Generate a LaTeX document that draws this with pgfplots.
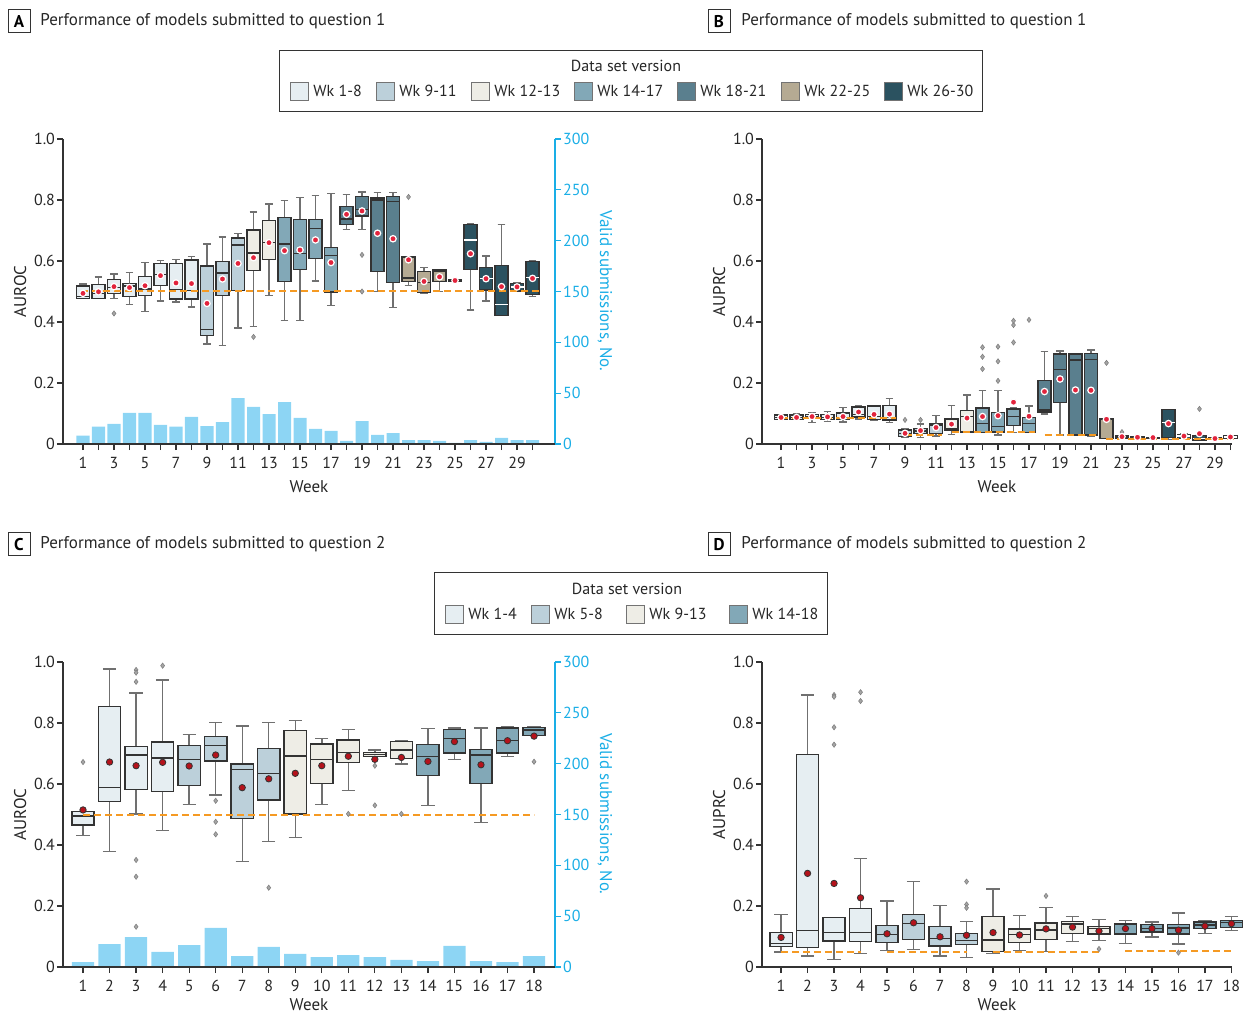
\documentclass[border=0pt]{standalone}
\usepackage{pgfplots}
\pgfplotsset{compat=1.18}
\usepgfplotslibrary{statistics}
\usepackage{fontspec}
\setmainfont{PT Sans}
\setsansfont{PT Sans}
\definecolor{cA}{HTML}{E6EEF2}
\definecolor{cB}{HTML}{BCD0DA}
\definecolor{cC}{HTML}{EEEDE6}
\definecolor{cD}{HTML}{82A8B7}
\definecolor{cE}{HTML}{5A7F8E}
\definecolor{cF}{HTML}{B5AA93}
\definecolor{cG}{HTML}{2B5260}
\definecolor{barc}{HTML}{8DD5F4}
\definecolor{axblue}{HTML}{1AAEE6}
\definecolor{orng}{HTML}{F59A23}
\definecolor{meanred}{HTML}{E2233C}
\definecolor{darkred}{HTML}{B5121B}
\definecolor{boxline}{HTML}{333333}
\definecolor{whisk}{HTML}{707070}
\pgfplotsset{
 bxp/.style={solid, draw=boxline, line width=0.7pt, mark=diamond*, mark size=1.3pt,
   mark options={solid, fill=gray!70, draw=gray, line width=0.3pt},
   boxplot/draw direction=y,
   boxplot/box extend=0.84, boxplot/whisker extend=0.5,
   boxplot/every whisker/.style={draw=whisk},
   boxplot/every median/.style={draw=boxline}},
 wmed/.style={boxplot/every median/.style={draw=white}},
 panel/.style={anchor=south west, scale only axis, height=152.5pt, ymin=0, ymax=1,
   axis x line*=bottom, axis y line*=left, axis line style={boxline, line width=0.6pt, -},
   tick align=outside, major tick length=3pt, tick style={boxline, line width=0.6pt},
   ytick={0,0.2,0.4,0.6,0.8,1}, yticklabels={0,0.2,0.4,0.6,0.8,1.0},
   tick label style={font=\fontsize{8}{9.6}\selectfont, text=black!85},
   yticklabel style={xshift=2.5pt},
   label style={font=\fontsize{8.5}{10}\selectfont, text=black!85}, xlabel={Week},
   xlabel style={yshift=0.8pt}, ylabel style={yshift=-3pt}, clip=false,
   /pgf/number format/assume math mode=true},
 lowpanel/.style={xlabel style={yshift=2.6pt}},
 barax/.style={anchor=south west, scale only axis, height=152.5pt, ymin=0, ymax=300,
   axis x line=none, axis y line*=right, axis line style={axblue, line width=0.6pt, -},
   tick align=outside, major tick length=3pt, tick style={axblue, line width=0.6pt},
   ytick={0,50,100,150,200,250,300}, yticklabels={0,50,100,150,200,250,300},
   yticklabel style={font=\fontsize{8}{9.6}\selectfont, text=axblue, xshift=-2.5pt},
   /pgf/number format/assume math mode=true},
 meanA/.style={only marks, mark=*, mark size=1.6pt, mark options={solid, fill=meanred, draw=white, line width=0.6pt}},
 meanC/.style={only marks, mark=*, mark size=1.6pt, mark options={solid, fill=darkred, draw=boxline, line width=0.4pt}},
 base/.style={draw=orng, color=orng, no marks, line width=1pt, dash pattern=on 3.5pt off 2pt},
}
% #1 extra options, #2 position, #3 lower whisker, #4 lower quartile, #5 median,
% #6 upper quartile, #7 upper whisker, #8 fill colour, #9 outliers
\newcommand{\bx}[9][]{\addplot[bxp, fill=#8, #1, boxplot prepared={draw position=#2, lower whisker=#3, lower quartile=#4, median=#5, upper quartile=#6, upper whisker=#7}] coordinates {#9};}

\begin{document}
\begin{tikzpicture}
\path[use as bounding box] (0,0) rectangle (622pt,-508pt);
% ---------- panel headers ----------
\tikzset{hdrbox/.style={draw=boxline, line width=0.5pt, minimum width=11pt, minimum height=11.5pt, inner sep=0pt, font=\bfseries\fontsize{8.5}{10}\selectfont},
 hdr/.style={anchor=west, inner sep=0pt, font=\fontsize{8.5}{10}\selectfont, text=black!85}}
\node[hdrbox] at (9.5pt,-10.75pt) {A};
\node[hdr] at (20pt,-10.75pt) {Performance of models submitted to question 1};
\node[hdrbox] at (359.5pt,-10.75pt) {B};
\node[hdr] at (370.5pt,-10.75pt) {Performance of models submitted to question 1};
\node[hdrbox] at (9.5pt,-272.25pt) {C};
\node[hdr] at (20pt,-272.25pt) {Performance of models submitted to question 2};
\node[hdrbox] at (359.5pt,-272.25pt) {D};
\node[hdr] at (370.5pt,-272.25pt) {Performance of models submitted to question 2};
% ---------- legend 1 ----------
\draw[boxline, line width=0.5pt] (139.5pt,-25.5pt) rectangle (491pt,-56pt);
\node[font=\fontsize{8}{9.6}\selectfont, text=black!85] at (313pt,-33pt) {Data set version};
\foreach \xx/\cc/\lab in {145/cA/{Wk 1-8}, 188/cB/{Wk 9-11}, 235.5/cC/{Wk 12-13}, 287/cD/{Wk 14-17}, 338.5/cE/{Wk 18-21}, 390.5/cF/{Wk 22-25}, 442/cG/{Wk 26-30}}{
  \draw[fill=\cc, draw=gray!90!black, line width=0.4pt] (\xx pt,-41pt) rectangle ++(9pt,-9pt);
  \node[anchor=west, inner sep=0pt, font=\fontsize{8}{9.6}\selectfont, text=black!85] at ({\xx pt + 11.5pt},-45.5pt) {\lab};
}
% ---------- legend 2 ----------
\draw[boxline, line width=0.5pt] (217pt,-286.5pt) rectangle (413.5pt,-317pt);
\node[font=\fontsize{8}{9.6}\selectfont, text=black!85] at (313.5pt,-294.5pt) {Data set version};
\foreach \xx/\cc/\lab in {222.5/cA/{Wk 1-4}, 265.5/cB/{Wk 5-8}, 313/cC/{Wk 9-13}, 364.5/cD/{Wk 14-18}}{
  \draw[fill=\cc, draw=gray!90!black, line width=0.4pt] (\xx pt,-302.5pt) rectangle ++(9pt,-9pt);
  \node[anchor=west, inner sep=0pt, font=\fontsize{8}{9.6}\selectfont, text=black!85] at ({\xx pt + 11.5pt},-307pt) {\lab};
}
% ---------- right-axis labels ----------
\node[rotate=-90, font=\fontsize{8.5}{10}\selectfont, text=axblue] at (302.5pt,-145.5pt) {Valid submissions, No.};
\node[rotate=-90, font=\fontsize{8.5}{10}\selectfont, text=axblue] at (302.5pt,-407pt) {Valid submissions, No.};

% ================= PANEL A =================
\begin{axis}[barax, at={(31.5pt,-222pt)}, width=246pt, xmin=-0.29, xmax=31.45]
\addplot[ybar, bar width=0.84, fill=barc, draw=none] coordinates {
(1,8.2) (2,17) (3,19.7) (4,30.5) (5,30.5) (6,18.7) (7,17) (8,26.6) (9,17.7) (10,21.6)
(11,45.2) (12,36.4) (13,29.5) (14,41.3) (15,25.6) (16,14.8) (17,12.8) (18,3) (19,22.6) (20,8.9)
(21,10.8) (22,3.9) (23,3.9) (24,3) (25,1) (26,3.9) (27,2) (28,5.9) (29,3.9) (30,3.9)};
\end{axis}
\begin{axis}[panel, at={(31.5pt,-222pt)}, width=246pt, xmin=-0.29, xmax=31.45,
  xtick={1,...,30}, xticklabels={1,,3,,5,,7,,9,,11,,13,,15,,17,,19,,21,,23,,25,,27,,29,}, ylabel={AUROC}]
\bx{1}{0.478}{0.478}{0.483}{0.518}{0.525}{cA}{}
\bx{2}{0.478}{0.478}{0.494}{0.523}{0.547}{cA}{}
\bx{3}{0.478}{0.494}{0.514}{0.539}{0.557}{cA}{(0,0.428)}
\bx{4}{0.457}{0.484}{0.518}{0.526}{0.562}{cA}{}
\bx{5}{0.434}{0.486}{0.508}{0.549}{0.596}{cA}{}
\bx{6}{0.469}{0.520}{0.556}{0.591}{0.601}{cA}{}
\bx{7}{0.466}{0.476}{0.507}{0.592}{0.604}{cA}{}
\bx{8}{0.449}{0.476}{0.504}{0.603}{0.614}{cA}{}
\bx{9}{0.328}{0.355}{0.375}{0.584}{0.656}{cB}{}
\bx{10}{0.322}{0.486}{0.560}{0.598}{0.679}{cB}{}
\bx{11}{0.380}{0.503}{0.652}{0.675}{0.691}{cB}{}
\bx{12}{0.385}{0.569}{0.626}{0.701}{0.761}{cC}{(0,0.351)}
\bx{13}{0.487}{0.604}{0.660}{0.732}{0.787}{cC}{}
\bx{14}{0.405}{0.533}{0.656}{0.743}{0.798}{cD}{}
\bx{15}{0.405}{0.573}{0.625}{0.737}{0.809}{cD}{}
\bx{16}{0.534}{0.609}{0.707}{0.737}{0.814}{cD}{}
\bx{17}{0.454}{0.499}{0.619}{0.644}{0.822}{cD}{}
\bx{18}{0.704}{0.720}{0.738}{0.778}{0.819}{cE}{}
\bx{19}{0.704}{0.748}{0.769}{0.812}{0.826}{cE}{(0,0.620) (0,0.500)}
\bx{20}{0.500}{0.566}{0.800}{0.807}{0.825}{cE}{}
\bx{21}{0.447}{0.530}{0.796}{0.812}{0.825}{cE}{}
\bx{22}{0.519}{0.532}{0.544}{0.613}{0.613}{cF}{(0,0.810)}
\bx{23}{0.494}{0.496}{0.530}{0.565}{0.579}{cF}{}
\bx{24}{0.500}{0.533}{0.567}{0.570}{0.573}{cF}{}
\bx{25}{0.534}{0.534}{0.536}{0.538}{0.538}{cF}{}
\bx[wmed]{26}{0.439}{0.572}{0.669}{0.719}{0.721}{cG}{}
\bx[wmed]{27}{0.469}{0.505}{0.542}{0.579}{0.616}{cG}{}
\bx[wmed]{28}{0.422}{0.422}{0.458}{0.586}{0.720}{cG}{}
\bx[wmed]{29}{0.502}{0.502}{0.515}{0.526}{0.528}{cG}{}
\bx[wmed]{30}{0.483}{0.490}{0.545}{0.599}{0.601}{cG}{}
\addplot[base] coordinates {(0.9,0.5) (30.5,0.5)};
\addplot[meanA] coordinates {(1,0.494) (2,0.499) (3,0.516) (4,0.513) (5,0.519) (6,0.552) (7,0.528) (8,0.526) (9,0.461) (10,0.541) (11,0.592) (12,0.611) (13,0.660) (14,0.634) (15,0.636) (16,0.669) (17,0.595) (18,0.753) (19,0.764) (20,0.691) (21,0.673) (22,0.604) (23,0.533) (24,0.548) (25,0.536) (26,0.624) (27,0.542) (28,0.516) (29,0.515) (30,0.543)};
\end{axis}

% ================= PANEL B =================
\begin{axis}[panel, at={(381pt,-222pt)}, width=235pt, xmin=-0.23, xmax=30.1,
  xtick={1,...,30}, xticklabels={1,,3,,5,,7,,9,,11,,13,,15,,17,,19,,21,,23,,25,,27,,29,}, ylabel={AUPRC}]
\bx{1}{0.081}{0.081}{0.087}{0.095}{0.095}{cA}{}
\bx{2}{0.081}{0.081}{0.087}{0.095}{0.100}{cA}{}
\bx{3}{0.071}{0.083}{0.090}{0.097}{0.104}{cA}{}
\bx{4}{0.074}{0.081}{0.087}{0.096}{0.107}{cA}{}
\bx{5}{0.072}{0.081}{0.087}{0.102}{0.120}{cA}{}
\bx{6}{0.082}{0.089}{0.097}{0.121}{0.126}{cA}{}
\bx{7}{0.079}{0.081}{0.090}{0.125}{0.125}{cA}{}
\bx{8}{0.070}{0.079}{0.087}{0.126}{0.149}{cA}{}
\bx{9}{0.022}{0.024}{0.035}{0.046}{0.051}{cB}{(0,0.079)}
\bx{10}{0.022}{0.034}{0.043}{0.051}{0.065}{cB}{(0,0.079)}
\bx{11}{0.026}{0.035}{0.062}{0.068}{0.093}{cB}{}
\bx{12}{0.031}{0.046}{0.051}{0.082}{0.126}{cC}{}
\bx{13}{0.040}{0.040}{0.090}{0.109}{0.160}{cC}{}
\bx{14}{0.038}{0.038}{0.068}{0.118}{0.175}{cD}{(0,0.317) (0,0.286) (0,0.246)}
\bx{15}{0.030}{0.040}{0.057}{0.103}{0.175}{cD}{(0,0.319) (0,0.271) (0,0.207)}
\bx{16}{0.037}{0.060}{0.090}{0.115}{0.118}{cD}{(0,0.333) (0,0.390) (0,0.404)}
\bx{17}{0.037}{0.037}{0.068}{0.087}{0.125}{cD}{(0,0.407)}
\bx{18}{0.098}{0.105}{0.112}{0.208}{0.303}{cE}{}
\bx{19}{0.030}{0.137}{0.245}{0.295}{0.305}{cE}{}
\bx{20}{0.030}{0.030}{0.275}{0.295}{0.297}{cE}{}
\bx{21}{0.024}{0.030}{0.278}{0.297}{0.308}{cE}{}
\bx{22}{0.018}{0.018}{0.018}{0.082}{0.082}{cF}{(0,0.266)}
\bx{23}{0.018}{0.018}{0.022}{0.026}{0.026}{cF}{(0,0.039)}
\bx{24}{0.019}{0.019}{0.022}{0.025}{0.025}{cF}{}
\bx{25}{0.020}{0.020}{0.021}{0.022}{0.022}{cF}{}
\bx[wmed]{26}{0.015}{0.022}{0.071}{0.114}{0.114}{cG}{}
\bx[wmed]{27}{0.018}{0.018}{0.026}{0.031}{0.035}{cG}{}
\bx[wmed]{28}{0.013}{0.013}{0.018}{0.028}{0.032}{cG}{(0,0.115)}
\bx[wmed]{29}{0.015}{0.015}{0.017}{0.021}{0.021}{cG}{}
\bx[wmed]{30}{0.019}{0.019}{0.023}{0.027}{0.027}{cG}{}
\addplot[base] coordinates {(1,0.085) (8.4,0.085)};
\addplot[base] coordinates {(9,0.030) (11.4,0.030)};
\addplot[base] coordinates {(12,0.040) (17.4,0.040)};
\addplot[base] coordinates {(18,0.030) (21.4,0.030)};
\addplot[base] coordinates {(22,0.017) (30.3,0.017)};
\addplot[meanA] coordinates {(1,0.087) (2,0.087) (3,0.090) (4,0.089) (5,0.090) (6,0.105) (7,0.097) (8,0.098) (9,0.035) (10,0.044) (11,0.054) (12,0.065) (13,0.085) (14,0.090) (15,0.093) (16,0.137) (17,0.091) (18,0.172) (19,0.213) (20,0.177) (21,0.176) (22,0.081) (23,0.024) (24,0.022) (25,0.021) (26,0.067) (27,0.026) (28,0.034) (29,0.018) (30,0.023)};
\end{axis}

% ================= PANEL C =================
\begin{axis}[barax, at={(31.5pt,-483.5pt)}, width=246pt, xmin=0.245, xmax=18.79]
\addplot[ybar, bar width=0.84, fill=barc, draw=none] coordinates {
(1,4.9) (2,22.6) (3,29.5) (4,14.8) (5,21.6) (6,38.4) (7,10.8) (8,19.7) (9,12.8)
(10,9.8) (11,11.8) (12,9.8) (13,6.9) (14,5.9) (15,20.7) (16,5.9) (17,4.9) (18,10.8)};
\end{axis}
\begin{axis}[panel, lowpanel, at={(31.5pt,-483.5pt)}, width=246pt, xmin=0.245, xmax=18.79,
  xtick={1,...,18}, ylabel={AUROC}]
\bx{1}{0.431}{0.465}{0.495}{0.510}{0.510}{cA}{(0,0.672)}
\bx{2}{0.378}{0.542}{0.589}{0.854}{0.977}{cA}{}
\bx{3}{0.502}{0.582}{0.695}{0.722}{0.898}{cA}{(0,0.974) (0,0.965) (0,0.935) (0,0.351) (0,0.296) (0,0.132)}
\bx{4}{0.448}{0.575}{0.685}{0.738}{0.941}{cA}{(0,0.988)}
\bx{5}{0.533}{0.596}{0.680}{0.727}{0.762}{cB}{}
\bx{6}{0.564}{0.676}{0.726}{0.755}{0.801}{cB}{(0,0.545) (0,0.476) (0,0.435)}
\bx{7}{0.345}{0.487}{0.648}{0.665}{0.790}{cB}{}
\bx{8}{0.411}{0.547}{0.635}{0.717}{0.801}{cB}{(0,0.260)}
\bx{9}{0.424}{0.502}{0.692}{0.775}{0.808}{cC}{}
\bx{10}{0.533}{0.602}{0.681}{0.731}{0.749}{cC}{}
\bx{11}{0.578}{0.670}{0.703}{0.744}{0.779}{cC}{(0,0.502)}
\bx{12}{0.690}{0.690}{0.697}{0.704}{0.711}{cC}{(0,0.660) (0,0.530)}
\bx{13}{0.666}{0.684}{0.711}{0.739}{0.742}{cC}{(0,0.502)}
\bx{14}{0.530}{0.628}{0.690}{0.730}{0.781}{cD}{}
\bx{15}{0.681}{0.701}{0.750}{0.778}{0.784}{cD}{}
\bx{16}{0.473}{0.602}{0.695}{0.714}{0.784}{cD}{}
\bx{17}{0.690}{0.702}{0.742}{0.784}{0.788}{cD}{}
\bx{18}{0.760}{0.760}{0.777}{0.786}{0.788}{cD}{(0,0.673)}
\addplot[base] coordinates {(1,0.5) (18,0.5)};
\addplot[meanC] coordinates {(1,0.515) (2,0.672) (3,0.660) (4,0.671) (5,0.659) (6,0.695) (7,0.588) (8,0.617) (9,0.635) (10,0.660) (11,0.691) (12,0.681) (13,0.687) (14,0.674) (15,0.739) (16,0.663) (17,0.742) (18,0.757)};
\end{axis}

% ================= PANEL D =================
\begin{axis}[panel, lowpanel, at={(381pt,-483.5pt)}, width=235pt, xmin=0.28, xmax=18.02,
  xtick={1,...,18}, ylabel={AUPRC}]
\bx{1}{0.049}{0.067}{0.078}{0.114}{0.172}{cA}{}
\bx{2}{0.036}{0.064}{0.119}{0.697}{0.892}{cA}{}
\bx{3}{0.025}{0.085}{0.114}{0.163}{0.163}{cA}{(0,0.892) (0,0.886) (0,0.786) (0,0.729)}
\bx{4}{0.044}{0.083}{0.114}{0.192}{0.356}{cA}{(0,0.901) (0,0.872)}
\bx{5}{0.055}{0.081}{0.107}{0.137}{0.217}{cB}{}
\bx{6}{0.058}{0.091}{0.143}{0.173}{0.280}{cB}{}
\bx{7}{0.036}{0.069}{0.094}{0.133}{0.201}{cB}{}
\bx{8}{0.031}{0.073}{0.086}{0.109}{0.149}{cB}{(0,0.280) (0,0.205) (0,0.194)}
\bx{9}{0.045}{0.050}{0.088}{0.165}{0.256}{cC}{}
\bx{10}{0.055}{0.081}{0.106}{0.124}{0.168}{cC}{}
\bx{11}{0.050}{0.091}{0.121}{0.144}{0.196}{cC}{(0,0.233)}
\bx{12}{0.084}{0.110}{0.141}{0.150}{0.166}{cC}{}
\bx{13}{0.087}{0.108}{0.127}{0.133}{0.156}{cC}{(0,0.059)}
\bx{14}{0.078}{0.108}{0.141}{0.143}{0.153}{cD}{}
\bx{15}{0.098}{0.115}{0.127}{0.139}{0.148}{cD}{}
\bx{16}{0.076}{0.108}{0.128}{0.139}{0.177}{cD}{(0,0.047)}
\bx{17}{0.110}{0.127}{0.138}{0.148}{0.153}{cD}{}
\bx{18}{0.120}{0.130}{0.145}{0.152}{0.166}{cD}{}
\addplot[base] coordinates {(1,0.049) (4,0.049)};
\addplot[base] coordinates {(5,0.048) (8,0.048)};
\addplot[base] coordinates {(9,0.050) (13,0.050)};
\addplot[base] coordinates {(14,0.052) (18,0.052)};
\addplot[meanC] coordinates {(1,0.097) (2,0.307) (3,0.274) (4,0.227) (5,0.109) (6,0.145) (7,0.099) (8,0.104) (9,0.113) (10,0.105) (11,0.125) (12,0.131) (13,0.118) (14,0.126) (15,0.126) (16,0.121) (17,0.134) (18,0.142)};
\end{axis}
\end{tikzpicture}
\end{document}
